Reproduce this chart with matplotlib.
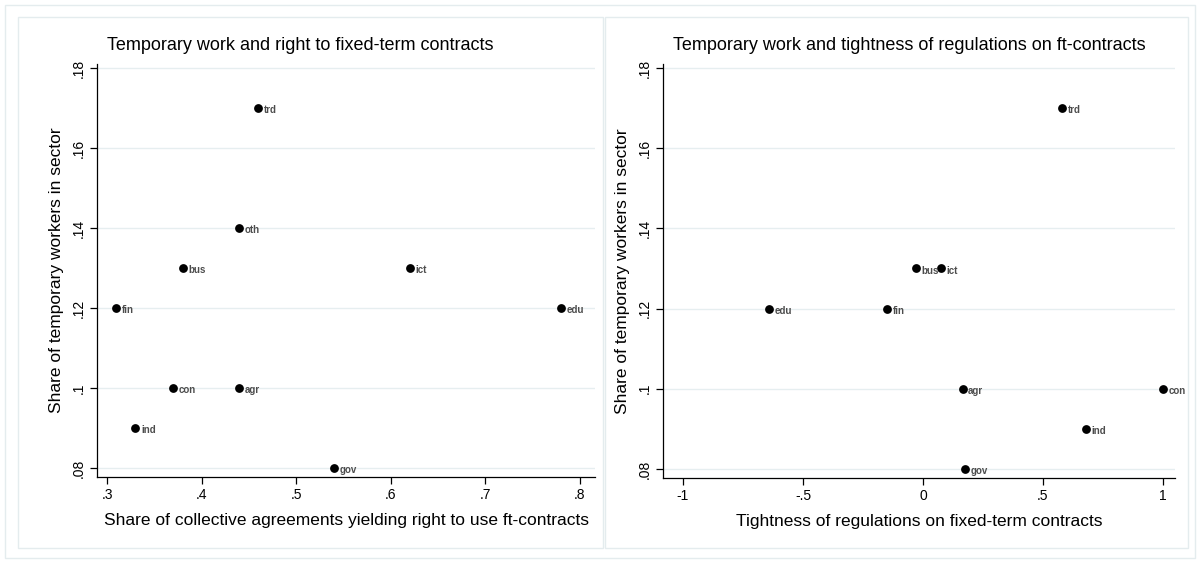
import matplotlib
matplotlib.use("Agg")
import matplotlib.pyplot as plt
from matplotlib.patches import Rectangle

plt.rcParams['font.family'] = ['Liberation Sans', 'DejaVu Sans']

labels_l = ["trd", "oth", "bus", "ict", "fin", "edu", "con", "agr", "ind", "gov"]
share_ca = [0.46, 0.44, 0.38, 0.62, 0.31, 0.78, 0.37, 0.44, 0.33, 0.54]
temp_l = [0.17, 0.14, 0.13, 0.13, 0.12, 0.12, 0.10, 0.10, 0.09, 0.08]

labels_r = ["trd", "bus", "ict", "edu", "fin", "agr", "con", "ind", "gov"]
tightness = [0.58, -0.03, 0.075, -0.64, -0.15, 0.165, 1.00, 0.68, 0.175]
temp_r = [0.17, 0.13, 0.13, 0.12, 0.12, 0.10, 0.10, 0.09, 0.08]

yticks = [0.08, 0.10, 0.12, 0.14, 0.16, 0.18]
ytick_labels = [".08", ".1", ".12", ".14", ".16", ".18"]
xticks_l = [0.3, 0.4, 0.5, 0.6, 0.7, 0.8]
xtick_labels_l = [".3", ".4", ".5", ".6", ".7", ".8"]
xticks_r = [-1, -0.5, 0, 0.5, 1]
xtick_labels_r = ["-1", "-.5", "0", ".5", "1"]

W, H = 1200, 563
fig = plt.figure(figsize=(12, 5.63), dpi=100)
fig.patch.set_facecolor("white")

def px(x0, y0, x1, y1):
    return [x0 / W, 1 - y1 / H, (x1 - x0) / W, (y1 - y0) / H]

border = "#e4ecee"
for (x0, y0, x1, y1) in [(5, 5, 1195, 558), (18, 17, 603, 548), (605, 17, 1188, 548)]:
    fig.patches.append(Rectangle((x0 / W, 1 - y1 / H), (x1 - x0) / W, (y1 - y0) / H,
                                 transform=fig.transFigure, fill=False,
                                 edgecolor=border, linewidth=1.0))

grid_c = "#e6eef0"

def setup(ax, xt, xtl, xlim):
    ax.set_ylim(0.07775, 0.181)
    ax.set_xlim(*xlim)
    ax.set_yticks(yticks)
    ax.set_yticklabels(ytick_labels, rotation=90, va="center", fontsize=10)
    ax.set_xticks(xt)
    ax.set_xticklabels(xtl, fontsize=10)
    ax.grid(axis="y", color=grid_c, linewidth=1.0)
    ax.set_axisbelow(True)
    for s in ["top", "right"]:
        ax.spines[s].set_visible(False)
    for s in ["left", "bottom"]:
        ax.spines[s].set_color("black")
        ax.spines[s].set_linewidth(0.9)
    ax.tick_params(direction="out", length=5, width=0.9, pad=3)

def pts(ax, xs, ys, labs):
    ax.scatter(xs, ys, s=40, color="black", zorder=3, linewidths=0)
    for x, y, t in zip(xs, ys, labs):
        ax.annotate(t, (x, y), xytext=(4, -1.5), textcoords="offset points",
                    fontsize=7, fontweight="bold", color="#4d4d4d",
                    va="center", ha="left", zorder=4)

ax1 = fig.add_axes(px(97, 64, 595, 477))
setup(ax1, xticks_l, xtick_labels_l, (0.2894, 0.816))
pts(ax1, share_ca, temp_l, labels_l)
ax1.set_xlabel("Share of collective agreements yielding right to use ft-contracts", fontsize=12.5, labelpad=8)
ax1.set_ylabel("Share of temporary workers in sector", fontsize=12.5, labelpad=6)

ax2 = fig.add_axes(px(663, 64, 1175, 478))
setup(ax2, xticks_r, xtick_labels_r, (-1.083, 1.05))
pts(ax2, tightness, temp_r, labels_r)
ax2.set_xlabel("Tightness of regulations on fixed-term contracts", fontsize=12.5, labelpad=8)
ax2.set_ylabel("Share of temporary workers in sector", fontsize=12.5, labelpad=6)

fig.text(300 / W, 1 - 45 / H, "Temporary work and right to fixed-term contracts",
         ha="center", va="center", fontsize=13)
fig.text(909 / W, 1 - 45 / H, "Temporary work and tightness of regulations on ft-contracts",
         ha="center", va="center", fontsize=13)

fig.savefig("out.png", dpi=100, facecolor="white")
